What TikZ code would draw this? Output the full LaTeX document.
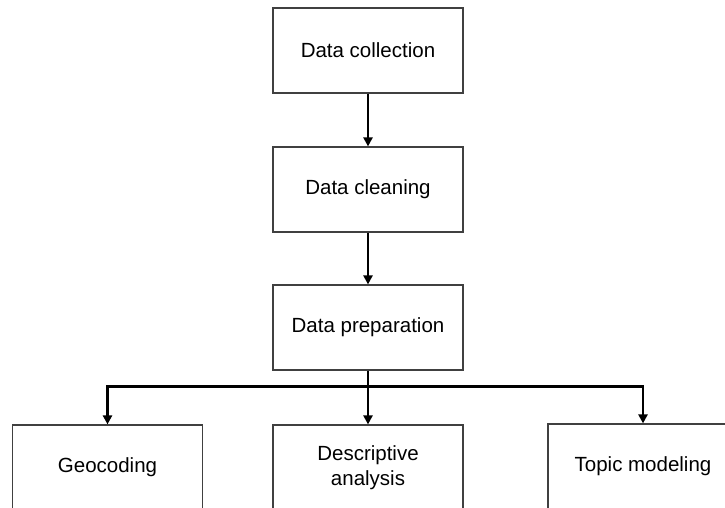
\documentclass[tikz,border=0pt]{standalone}
\usepackage{fontspec}
\setmainfont{Liberation Sans}
\usetikzlibrary{arrows.meta}
\begin{document}
\begin{tikzpicture}[x=1pt,y=-1pt,
  stepbox/.style={draw=black!75,line width=1.2pt,fill=white,minimum width=190pt,minimum height=85pt,inner sep=0pt,align=center,font=\fontsize{20.5}{25}\selectfont},
  conn/.style={line width=2.8pt,-{Triangle[length=9pt,width=9pt]}},
  plain/.style={line width=2.8pt}]
\useasboundingbox (0,0) rectangle (725,508);
\clip (0,0) rectangle (725,508);
\node[stepbox] (dc) at (368,50.5) {Data collection};
\node[stepbox] (cl) at (368,189.5) {Data cleaning};
\node[stepbox] (dp) at (368,327.5) {Data preparation};
\node[stepbox] (geo) at (107.5,467.5) {Geocoding};
\node[stepbox] (da) at (368,467.5) {Descriptive\\analysis};
\node[stepbox] (tm) at (643,466.5) {Topic modeling};
\coordinate (jn) at (368,386.5);
\draw[conn] (dc) -- (cl);
\draw[conn] (cl) -- (dp);
\draw[plain] (dp) -- (jn);
\draw[conn] (jn) -| (geo);
\draw[conn] (jn) -- (da);
\draw[conn] (jn) -| (tm);
\end{tikzpicture}
\end{document}
